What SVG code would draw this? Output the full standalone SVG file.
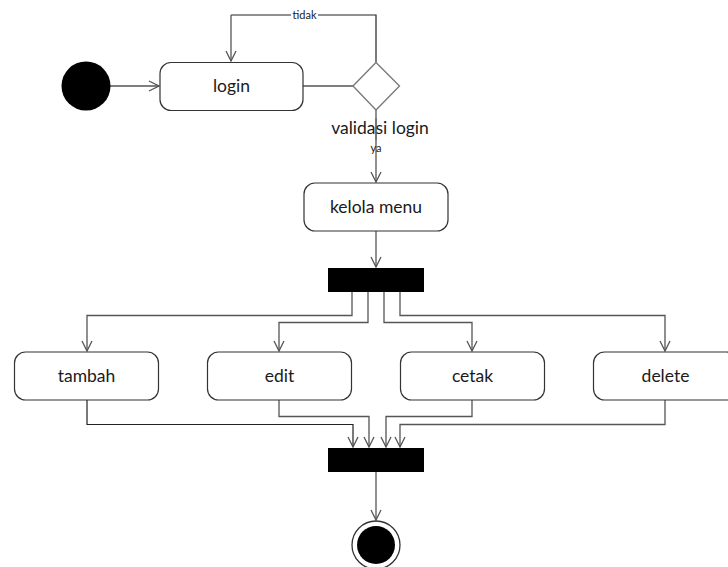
<svg xmlns="http://www.w3.org/2000/svg" width="728" height="567" viewBox="0 0 728 567">
<defs>
<marker id="arr" viewBox="0 0 12 12" refX="11" refY="6" markerWidth="12" markerHeight="12" markerUnits="userSpaceOnUse" orient="auto">
<path d="M1,1 L11,6 L1,11" fill="none" stroke="#555" stroke-width="1.3"/>
</marker>
<style>
.act{fill:#fff;stroke:#333;stroke-width:1.2}
.lbl{font-family:Lato,"Open Sans","Liberation Sans",sans-serif;font-size:17.5px;fill:#1a1a1a;text-anchor:middle}
.sm{font-family:Lato,"Open Sans","Liberation Sans",sans-serif;font-size:11px;fill:#1a1a1a;text-anchor:middle}
.c{fill:none;stroke:#555;stroke-width:1.3}
.c2{fill:none;stroke:#222;stroke-width:1.2}
.bar{fill:#000}
</style>
</defs>
<rect width="728" height="567" fill="#fff"/>
<g id="connectors">
<line class="c" x1="110" y1="86" x2="159" y2="86" marker-end="url(#arr)"/>
<line class="c" x1="303" y1="86" x2="353" y2="86"/>
<polyline class="c2" points="376,62 376,15 231,15"/>
<line class="c" x1="231" y1="15" x2="231" y2="61" marker-end="url(#arr)"/>
<rect x="291" y="9" width="27" height="12" fill="#fff"/>
<text class="sm" x="304.5" y="19">tidak</text>
<line class="c" x1="376" y1="110" x2="376" y2="182" marker-end="url(#arr)"/>
<line class="c" x1="376" y1="231" x2="376" y2="267" marker-end="url(#arr)"/>
<polyline class="c" points="352,292 352,315.5 87,315.5 87,351" marker-end="url(#arr)"/>
<polyline class="c" points="368,292 368,322.5 279,322.5 279,351" marker-end="url(#arr)"/>
<polyline class="c" points="384,292 384,322.5 472,322.5 472,351" marker-end="url(#arr)"/>
<polyline class="c" points="400,292 400,315.5 665,315.5 665,351" marker-end="url(#arr)"/>
<polyline class="c2" points="87,400 87,424.5 353,424.5 353,447" marker-end="url(#arr)"/>
<polyline class="c" points="279,400 279,416.5 369,416.5 369,447" marker-end="url(#arr)"/>
<polyline class="c" points="472,400 472,416.5 386,416.5 386,447" marker-end="url(#arr)"/>
<polyline class="c" points="665,400 665,424.5 400,424.5 400,447" marker-end="url(#arr)"/>
<line class="c" x1="376" y1="472" x2="376" y2="520" marker-end="url(#arr)"/>
</g>
<g id="start"><circle cx="86" cy="86" r="24.5" fill="#000"/></g>
<g id="login"><rect class="act" x="160" y="62.5" width="143" height="48" rx="11"/><text class="lbl" x="231.5" y="92">login</text></g>
<g id="validasi"><polygon points="353,86 376,62.5 399.5,86 376,110" fill="#fff" stroke="#777" stroke-width="1.3"/><text class="lbl" x="380" y="134">validasi login</text><line class="c" x1="376" y1="118" x2="376" y2="140" stroke-opacity="0.7"/><text class="sm" x="376" y="152">ya</text></g>
<g id="kelola"><rect class="act" x="304" y="183" width="144" height="48" rx="11"/><text class="lbl" x="376" y="213">kelola menu</text></g>
<g id="fork"><rect class="bar" x="328" y="268" width="96" height="24"/></g>
<g id="tambah"><rect class="act" x="14.5" y="352" width="144" height="48" rx="11"/><text class="lbl" x="86.5" y="382">tambah</text></g>
<g id="edit"><rect class="act" x="207.5" y="352" width="144" height="48" rx="11"/><text class="lbl" x="279.5" y="382">edit</text></g>
<g id="cetak"><rect class="act" x="400.5" y="352" width="144" height="48" rx="11"/><text class="lbl" x="472.5" y="382">cetak</text></g>
<g id="delete"><rect class="act" x="593.5" y="352" width="144" height="48" rx="11"/><text class="lbl" x="665.5" y="382">delete</text></g>
<g id="join"><rect class="bar" x="328" y="448" width="96" height="24"/></g>
<g id="end"><circle cx="376" cy="545" r="24" fill="#fff" stroke="#333" stroke-width="1.3"/><circle cx="376" cy="545" r="19" fill="#000"/></g>
</svg>
